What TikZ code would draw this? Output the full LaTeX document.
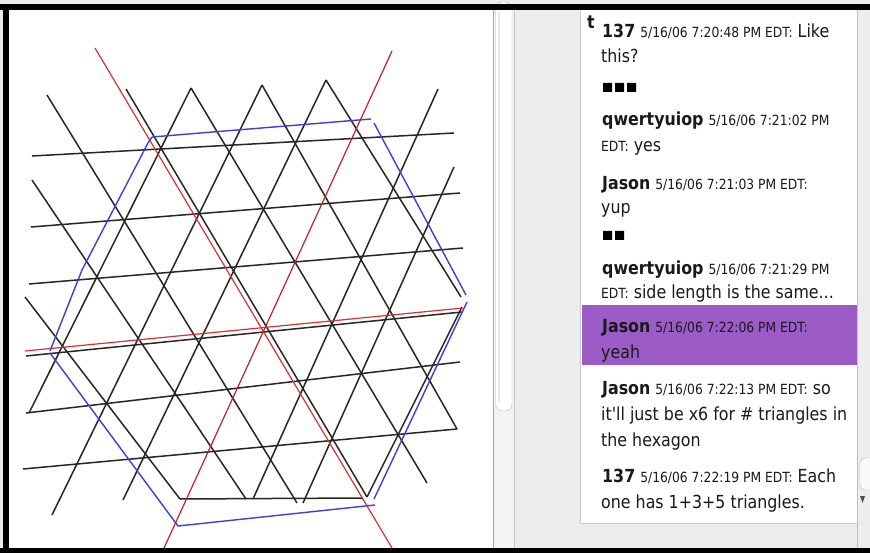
\documentclass[tikz,border=0pt]{standalone}
\usepackage{fontspec}
\newfontfamily\chatfont[FakeStretch=0.88]{DejaVu Sans}
\definecolor{chatpurple}{RGB}{155,92,200}
\definecolor{panelgray}{RGB}{236,236,236}
\definecolor{trackgray}{RGB}{244,244,244}
\definecolor{mirrorred}{RGB}{222,48,48}
\definecolor{mirrordark}{RGB}{190,36,36}
\definecolor{hexblue}{RGB}{62,62,222}
\tikzset{
  lattice/.style={line width=1.5pt, black!85},
  mirror/.style={line width=1.2pt, mirrorred},
  hexline/.style={line width=1.4pt, hexblue},
  chattext/.style={anchor=base west, inner sep=0pt, text=black!90,
    font=\chatfont\fontsize{18}{20}\selectfont},
}

\begin{document}
\begin{tikzpicture}[x=1pt,y=-1pt]
\newcommand{\chatname}[1]{\textbf{#1}}
\newcommand{\chatstamp}[1]{{\fontsize{14}{16}\selectfont #1}}
\useasboundingbox (0,0) rectangle (870,553);
\fill[panelgray] (0,0) rectangle (870,553);
\fill[white] (9,10) rectangle (493,548);
\fill[trackgray] (493,10) rectangle (514,548);
\draw[gray!70] (493.5,10) -- (493.5,548);
\draw[gray!45] (514.5,10) -- (514.5,548);
\draw[gray!55, fill=white, rounded corners=7pt] (495.5,2) rectangle (512,411);
\draw[gray!20, line width=2pt] (499,12) -- (499,402);
\fill[white] (580,10) rectangle (857,523);
\draw[gray!40] (580,10) -- (580,523) -- (857,523);
\fill[gray!14] (857,10) rectangle (870,548);
\draw[gray!50] (857.5,10) -- (857.5,548);
\draw[gray!60, fill=gray!4, rounded corners=5pt] (870,458) -- (860,458) -- (860,490) -- (870,490);
\fill[black!70] (860,496) -- (865,496) -- (862.5,503) -- cycle;
\fill[chatpurple] (582,305) rectangle (857,365);

\begin{scope}[lattice]
  \draw (32,156) -- (454,133);
  \draw (31,227) -- (460,193);
  \draw (29,284) -- (463,248);
  \draw (26,356) -- (462,312);
  \draw (26,413) -- (460,362);
  \draw (23,469) -- (457,429);
  \draw (180,499) -- (363,498);
  \draw (25,297) -- (180,499);
  \draw (32,180) -- (246,499);
  \draw (47,95) -- (297,503);
  \draw (126,89) -- (367,497);
  \draw (191,88) -- (427,483);
  \draw (262,85) -- (457,429);
  \draw (326,80) -- (461,297);
  \draw (191,88) -- (29,413);
  \draw (262,85) -- (52,515);
  \draw (326,80) -- (123,500);
  \draw (438,89) -- (253,499);
  \draw (454,167) -- (303,503);
  \draw (462,307) -- (367,497);
\end{scope}
\begin{scope}[mirror]
  \draw (25,351) -- (463,308);
  \draw (95,48) -- (392,548);
  \draw[mirrordark] (392,51) -- (164,548);
\end{scope}
\begin{scope}[hexline]
  \draw (152,137) -- (371,119);
  \draw (374,123) -- (466,295);
  \draw (467,302) -- (374,499);
  \draw (375,505) -- (178,526) -- (50,353);
  \draw (50,351) -- (82,270) -- (148,143) -- (152,137);
\end{scope}

\node[chattext] (lead) at (587,29) {\textbf{t}};
\node[chattext] (post1) at (602,38) {\chatname{137} \chatstamp{5/16/06 7:20:48 PM EDT:} Like};
\node[chattext] (post1b) at (601,63) {this?};
\fill (603,83) rectangle (612,92) (615,83) rectangle (624,92) (627,83) rectangle (636,92);
\node[chattext] (post2) at (602,126) {\chatname{qwertyuiop} \chatstamp{5/16/06 7:21:02 PM}};
\node[chattext] (post2b) at (601,152) {\chatstamp{EDT:} yes};
\node[chattext] (post3) at (602,190) {\chatname{Jason} \chatstamp{5/16/06 7:21:03 PM EDT:}};
\node[chattext] (post3b) at (601,214) {yup};
\fill (603,231) rectangle (612,240) (615,231) rectangle (624,240);
\node[chattext] (post4) at (602,275) {\chatname{qwertyuiop} \chatstamp{5/16/06 7:21:29 PM}};
\node[chattext] (post4b) at (601,299) {\chatstamp{EDT:} side length is the same...};
\node[chattext] (post5) at (602,333) {\chatname{Jason} \chatstamp{5/16/06 7:22:06 PM EDT:}};
\node[chattext] (post5b) at (601,358) {yeah};
\node[chattext] (post6) at (602,394) {\chatname{Jason} \chatstamp{5/16/06 7:22:13 PM EDT:} so};
\node[chattext] (post6b) at (601,420) {it'll just be x6 for \# triangles in};
\node[chattext] (post6c) at (601,446) {the hexagon};
\node[chattext] (post7) at (602,482) {\chatname{137} \chatstamp{5/16/06 7:22:19 PM EDT:} Each};
\node[chattext] (post7b) at (601,508) {one has 1+3+5 triangles.};

\fill[black] (0,4) rectangle (870,10);
\fill[black] (3,4) rectangle (9,553);
\fill[black] (0,548) rectangle (870,553);
\end{tikzpicture}
\end{document}
